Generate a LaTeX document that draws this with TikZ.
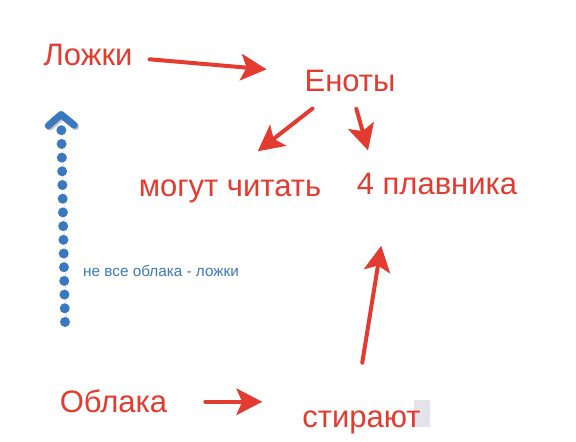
\documentclass[tikz,border=0pt]{standalone}
\usepackage{fontspec}
\setmainfont{Liberation Sans}
\usetikzlibrary{arrows.meta}
\definecolor{inkred}{RGB}{227,59,47}
\definecolor{inkblue}{RGB}{58,120,192}
\definecolor{smudge}{RGB}{228,226,235}
\tikzset{
  word/.style={text=inkred,inner sep=0pt,anchor=base,font=\fontsize{31}{37}\selectfont},
  note/.style={text=inkblue,inner sep=0pt,anchor=base west,font=\fontsize{15.3}{18}\selectfont},
  arr/.style={color=inkred,line width=4pt,line cap=round,-{Stealth[length=26pt,width=27pt,inset=6pt,line width=1pt]}},
  dots/.style={color=inkblue,line width=10pt,line cap=round,dash pattern=on 0pt off 13.7pt,-{Straight Barb[length=11pt,width=26pt,line width=7pt,round]},
    preaction={draw=black!22,transform canvas={shift={(1.5pt,-1.5pt)}}}}
}
\begin{document}
\begin{tikzpicture}[x=1pt,y=1pt]
\useasboundingbox (0,0) rectangle (576,442);
\fill[smudge] (414,15) rectangle (430,42);
\node(lozhki) at (88,376)[word]        {Ложки};
\node(enoty) at (350,350)[word]        {Еноты};
\node(mogut) at (230,245)[word]        {могут читать};
\node(plavnik) at (437,247)[word]        {4 плавника};
\node(oblaka) at (113.5,29)[word]        {Облака};
\node(stirayut) at (361.5,14)[word]        {стирают};
\coordinate(low) at (65,120);
\coordinate(top) at (61,331);
\node(remark) at (83,165)[note]        {не все облака - ложки};
\path
  (low)      edge [dots]      (top);
\path
  (lozhki.-3)      edge [arr,shorten <=17pt,shorten >=38pt]      (enoty.169)
  (enoty.213)      edge [arr,shorten <=26pt,shorten >=47pt]      (mogut.128)
  (enoty.-81)      edge [arr,shorten <=17pt,shorten >=24pt]      (plavnik.170)
  (oblaka.east)      edge [arr,shorten <=38pt,shorten >=40pt]      (oblaka.east -| stirayut.west)
  (stirayut.121)      edge [arr,shorten <=49pt,shorten >=51pt]      (plavnik.193);
\end{tikzpicture}
\end{document}
